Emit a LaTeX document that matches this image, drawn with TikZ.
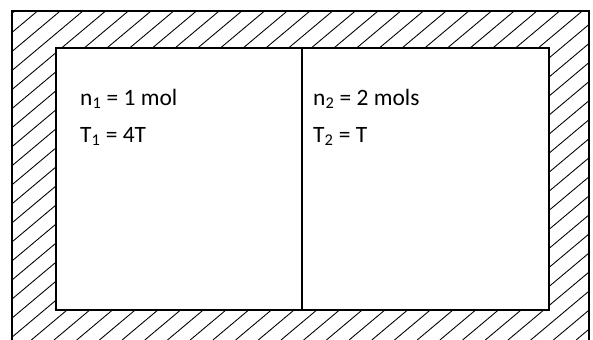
\documentclass[tikz,border=0pt]{standalone}
\usepackage{fontspec}
\setmainfont{Carlito}
\usepackage{tikz}
\usetikzlibrary{positioning}

\begin{document}
\begin{tikzpicture}[
    x=0.03cm, y=-0.03cm,
    font=\fontsize{20}{24}\selectfont,
    wall/.style={line width=1.5pt, line join=miter},
    hatch/.style={line width=0.75pt},
    chamber/.style={
        draw,
        line width=1.6pt,
        fill=white,
        inner sep=0pt,
        minimum height=262*0.03cm
    },
    label/.style={anchor=base west, inner sep=0pt}
]
\useasboundingbox (0,0) rectangle (593,340);

% hatched wall
\begin{scope}[even odd rule]
    \clip (12,11) rectangle (589,340) (55,47) rectangle (548,309);
    \foreach \c in {-400,-377.3,...,620}
        \draw[hatch] (\c,340) -- ++(400,-335.6);
\end{scope}
\draw[wall] (12,340) -- (12,11) -- (589,11) -- (589,340);

% the two chambers
\node[chamber, minimum width=246*0.03cm, anchor=north west] (left) at (55,47) {};
\node[chamber, minimum width=247*0.03cm, anchor=north west] (right) at (301,47) {};

% gas data
\node[label] (n1) at (80,105) {n\textsubscript{1} = 1 mol};
\node[label, below=1.11cm of n1.base west, anchor=base west] (t1) {T\textsubscript{1} = 4T};
\node[label] (n2) at (313,105) {n\textsubscript{2} = 2 mols};
\node[label, below=1.11cm of n2.base west, anchor=base west] (t2) {T\textsubscript{2} = T};

\end{tikzpicture}
\end{document}
